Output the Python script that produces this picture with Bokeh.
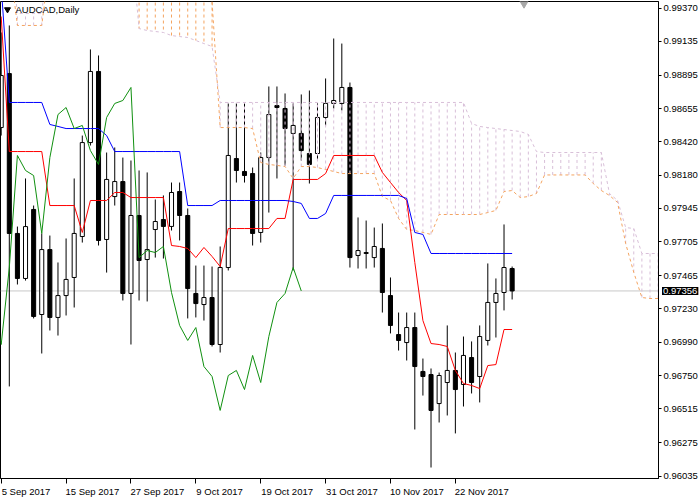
from bokeh.plotting import figure
from bokeh.models import Range1d, FixedTicker, Span, Label, PrintfTickFormatter
from bokeh.embed import file_html
from bokeh.resources import INLINE

# ---------------- data ----------------
symbol_title = "AUDCAD,Daily"
date_tick_index = [0, 8, 16, 24, 32, 40, 48, 56]
date_labels = ["5 Sep 2017", "15 Sep 2017", "27 Sep 2017", "9 Oct 2017",
               "19 Oct 2017", "31 Oct 2017", "10 Nov 2017", "22 Nov 2017"]
price_ticks = [0.99370, 0.99135, 0.98895, 0.98655, 0.98420, 0.98180, 0.97945,
               0.97705, 0.97465, 0.97230, 0.96990, 0.96750, 0.96515, 0.96275, 0.96035]
last_price = 0.97356

opens = [0.98521, 0.98906, 0.97766, 0.97445, 0.97937, 0.97188, 0.97651, 0.97167, 0.97323, 0.97452,
         0.97744, 0.98414, 0.98921, 0.97723, 0.98029, 0.98136, 0.97338, 0.97894, 0.97580, 0.97794,
         0.97865, 0.97816, 0.98065, 0.97894, 0.97338, 0.97259, 0.97309, 0.96974, 0.97523, 0.98300,
         0.98208, 0.98193, 0.97773, 0.98307, 0.98678, 0.98657, 0.98479, 0.98479, 0.98336, 0.98336,
         0.98593, 0.98693, 0.98693, 0.98807, 0.97609, 0.97623, 0.97594, 0.97659, 0.97323, 0.97045,
         0.96988, 0.97095, 0.96782, 0.96760, 0.96553, 0.96703, 0.96789, 0.96689, 0.96881, 0.96746,
         0.97003, 0.97274, 0.97345, 0.97516]
highs = [0.99199, 0.99249, 0.97815, 0.98158, 0.97965, 0.97766, 0.97751, 0.97559, 0.97730, 0.98158,
         0.98464, 0.99078, 0.99035, 0.98343, 0.98379, 0.98307, 0.98286, 0.98215, 0.98201, 0.98008,
         0.98037, 0.98129, 0.98129, 0.97944, 0.97537, 0.97537, 0.97530, 0.97673, 0.98693, 0.98693,
         0.98693, 0.98236, 0.98343, 0.98814, 0.98814, 0.98764, 0.98693, 0.98757, 0.98785, 0.98693,
         0.98871, 0.99156, 0.99120, 0.98842, 0.97880, 0.97858, 0.97808, 0.97837, 0.97452, 0.97202,
         0.97202, 0.97202, 0.96874, 0.96803, 0.96774, 0.97110, 0.96917, 0.97031, 0.96996, 0.97110,
         0.97552, 0.97445, 0.97830, 0.97530]
lows = [0.98464, 0.96675, 0.97402, 0.97430, 0.97160, 0.96910, 0.97074, 0.97038, 0.97181, 0.97238,
        0.97701, 0.98393, 0.97680, 0.97487, 0.97965, 0.97288, 0.96974, 0.97288, 0.97281, 0.97594,
        0.97587, 0.97787, 0.97716, 0.97160, 0.97167, 0.97145, 0.96960, 0.96917, 0.97502, 0.98129,
        0.98129, 0.97680, 0.97701, 0.97915, 0.98158, 0.98250, 0.97502, 0.98286, 0.98122, 0.98286,
        0.98536, 0.98657, 0.98643, 0.97523, 0.97516, 0.97516, 0.97523, 0.97202, 0.97053, 0.96931,
        0.96860, 0.96368, 0.96610, 0.96097, 0.96418, 0.96468, 0.96340, 0.96532, 0.96625, 0.96561,
        0.96967, 0.97024, 0.97217, 0.97295]
closes = [0.98892, 0.97766, 0.97445, 0.97815, 0.97174, 0.97651, 0.97167, 0.97323, 0.97438, 0.97766,
          0.98414, 0.98921, 0.97716, 0.98151, 0.98136, 0.97338, 0.97894, 0.97573, 0.97651, 0.97851,
          0.97816, 0.98058, 0.97894, 0.97373, 0.97266, 0.97309, 0.96974, 0.97523, 0.98322, 0.98215,
          0.98179, 0.97766, 0.98307, 0.98614, 0.98664, 0.98514, 0.98536, 0.98357, 0.98258, 0.98593,
          0.98693, 0.98714, 0.98807, 0.97594, 0.97644, 0.97630, 0.97673, 0.97345, 0.97110, 0.97003,
          0.97095, 0.96817, 0.96746, 0.96504, 0.96753, 0.96789, 0.96653, 0.96896, 0.96703, 0.97031,
          0.97274, 0.97338, 0.97523, 0.97356]

tenkan = [0.99313, 0.98350, 0.98350, 0.98350, 0.98350, 0.98350, 0.97965, 0.97965, 0.97965, 0.97965,
          0.97773, 0.98001, 0.98001, 0.98001, 0.98058, 0.98058, 0.98022, 0.98022, 0.98022, 0.98022,
          0.98022, 0.97680, 0.97673, 0.97659, 0.97594, 0.97666, 0.97602, 0.97530, 0.97801, 0.97801,
          0.97801, 0.97801, 0.97801, 0.97801, 0.97873, 0.97873, 0.98151, 0.98151, 0.98151, 0.98151,
          0.98193, 0.98322, 0.98322, 0.98322, 0.98322, 0.98322, 0.98322, 0.98201, 0.98129, 0.98058,
          0.98001, 0.97559, 0.97145, 0.96981, 0.96974, 0.96960, 0.96789, 0.96696, 0.96682, 0.96660,
          0.96824, 0.96831, 0.97081, 0.97081]
kijun = [0.99527, 0.98700, 0.98700, 0.98700, 0.98700, 0.98700, 0.98543, 0.98529, 0.98514, 0.98514,
         0.98514, 0.98514, 0.98514, 0.98464, 0.98350, 0.98350, 0.98350, 0.98350, 0.98350, 0.98350,
         0.98350, 0.98350, 0.98350, 0.97965, 0.97965, 0.97965, 0.97965, 0.98001, 0.98001, 0.98001,
         0.98001, 0.98001, 0.98001, 0.98001, 0.98001, 0.98001, 0.97994, 0.97980, 0.97873, 0.97873,
         0.97908, 0.98037, 0.98037, 0.98037, 0.98037, 0.98037, 0.98037, 0.98037, 0.98037, 0.98037,
         0.98015, 0.97773, 0.97759, 0.97623, 0.97623, 0.97623, 0.97623, 0.97623, 0.97623, 0.97623,
         0.97623, 0.97623, 0.97623, 0.97623]
# cloud spans, bar 0 .. bar 81 (already displaced 26 bars forward)
senkou_a = [0.99712, 0.99712, 0.99249, 0.99249, 0.99249, 0.99249, 0.99712, 0.99712, 0.99712, 0.99712,
            0.99712, 0.99712, 0.99712, 0.99712, 0.99712, 0.99712, 0.99712, 0.99712, 0.99712, 0.99712,
            0.99712, 0.99712, 0.99712, 0.99712, 0.99712, 0.99712, 0.99420, 0.98521, 0.98521, 0.98521,
            0.98521, 0.98514, 0.98272, 0.98258, 0.98251, 0.98243, 0.98158, 0.98243, 0.98243, 0.98236,
            0.98222, 0.98208, 0.98193, 0.98193, 0.98193, 0.98193, 0.98193, 0.98029, 0.98001, 0.97873,
            0.97794, 0.97787, 0.97773, 0.97759, 0.97901, 0.97901, 0.97901, 0.97901, 0.97901, 0.97901,
            0.97915, 0.97930, 0.98065, 0.98072, 0.98022, 0.98029, 0.98051, 0.98183, 0.98183, 0.98183,
            0.98183, 0.98183, 0.98183, 0.98122, 0.98072, 0.98037, 0.97987, 0.97694, 0.97488, 0.97309,
            0.97302, 0.97302]
senkou_b = [0.99855, 0.99855, 0.99334, 0.99334, 0.99334, 0.99334, 0.99855, 0.99855, 0.99855, 0.99855,
            0.99855, 0.99855, 0.99855, 0.99855, 0.99855, 0.99855, 0.99855, 0.99227, 0.99213, 0.99206,
            0.99199, 0.99177, 0.99170, 0.99163, 0.99142, 0.99120, 0.99099, 0.98700, 0.98700, 0.98700,
            0.98700, 0.98700, 0.98700, 0.98700, 0.98700, 0.98700, 0.98700, 0.98700, 0.98700, 0.98700,
            0.98700, 0.98700, 0.98700, 0.98700, 0.98700, 0.98700, 0.98700, 0.98700, 0.98700, 0.98700,
            0.98700, 0.98700, 0.98700, 0.98700, 0.98700, 0.98700, 0.98700, 0.98700, 0.98550, 0.98529,
            0.98521, 0.98514, 0.98507, 0.98500, 0.98493, 0.98472, 0.98350, 0.98343, 0.98343, 0.98343,
            0.98343, 0.98343, 0.98343, 0.98343, 0.98343, 0.98051, 0.98001, 0.97808, 0.97801, 0.97623,
            0.97623, 0.97623]
chikou_shift = 26

# ---------------- layout constants ----------------
PX_BAR = 8.11          # pixels per bar
FIRST_BAR_PX = 0.7     # pixel x of bar 0
FRAME_W = 658
FRAME_H = 477
Y_TOP = 0.994199
Y_BOT = 0.960186
PX_PRICE = (Y_TOP - Y_BOT) / FRAME_H
FONT = "Liberation Sans"
FS = "9.5px"
TOP_BORDER = 34        # room for the side-panel labels, pushed above the page
LEFT_BORDER = 50       # hidden room left of the frame
RIGHT_BORDER = 42
BOTTOM_BORDER = 24

# approximate glyph widths (em) to left-align date labels on their tick
_W = {"0": .556, "1": .556, "2": .556, "3": .556, "4": .556, "5": .556, "6": .556, "7": .556,
      "8": .556, "9": .556, " ": .278, "S": .667, "e": .556, "p": .556, "O": .778, "c": .5,
      "t": .278, "N": .722, "o": .556, "v": .5}


def left_aligned(s):
    w = sum(_W.get(ch, .556) for ch in s)
    return "\u00a0" * int(round(w / .278)) + s


x_start = -FIRST_BAR_PX / PX_BAR
x_end = x_start + FRAME_W / PX_BAR

p = figure(width=LEFT_BORDER + FRAME_W + RIGHT_BORDER,
           height=TOP_BORDER + FRAME_H + BOTTOM_BORDER,
           output_backend="svg", toolbar_location=None,
           x_range=Range1d(x_start, x_end), y_range=Range1d(Y_BOT, Y_TOP),
           y_axis_location="right", min_border_left=LEFT_BORDER, min_border_right=RIGHT_BORDER,
           min_border_top=TOP_BORDER, min_border_bottom=BOTTOM_BORDER)
p.margin = (-(TOP_BORDER - 1), -8, -8, -LEFT_BORDER)
p.background_fill_color = "white"
p.border_fill_color = "white"
p.outline_line_color = "black"
p.outline_line_width = 1
p.grid.visible = False

# x axis (first label is drawn separately so it stays fully on the page)
overrides = {t: left_aligned(lab) for t, lab in zip(date_tick_index, date_labels)}
overrides[date_tick_index[0]] = ""
p.xaxis.ticker = FixedTicker(ticks=date_tick_index, minor_ticks=[])
p.xaxis.major_label_overrides = overrides
p.xaxis.major_tick_out = 5
p.xaxis.major_tick_in = 0
p.xaxis.minor_tick_out = 0
p.xaxis.minor_tick_in = 0
p.xaxis.major_label_standoff = 2
p.xaxis.axis_line_color = "black"
p.xaxis.major_tick_line_color = "black"

# y axis
p.yaxis.ticker = FixedTicker(ticks=price_ticks, minor_ticks=[])
p.yaxis.formatter = PrintfTickFormatter(format="%.5f")
p.yaxis.major_tick_out = 3
p.yaxis.major_tick_in = 0
p.yaxis.minor_tick_out = 0
p.yaxis.minor_tick_in = 0
p.yaxis.major_label_standoff = 2
p.yaxis.axis_line_color = "black"
p.yaxis.major_tick_line_color = "black"

for ax in (p.xaxis, p.yaxis):
    ax.major_label_text_font = FONT
    ax.major_label_text_font_size = FS
    ax.major_label_text_color = "black"

# current price line
p.add_layout(Span(location=last_price, dimension="width", line_color="#c8c8c8",
                  line_width=1, level="underlay"))

# candles
n = len(closes)
bars = list(range(n))
p.segment(x0=bars, y0=highs, x1=bars, y1=lows, line_color="black", line_width=1)
body_top = [max(o, c) for o, c in zip(opens, closes)]
body_bot = [min(o, c) for o, c in zip(opens, closes)]
body_fill = ["white" if c >= o else "black" for o, c in zip(opens, closes)]
p.vbar(x=bars, width=0.5, top=body_top, bottom=body_bot, fill_color=body_fill,
       line_color="black", line_width=1)

# cloud hatch
cloud_x = list(range(len(senkou_a)))
hatch_col = ["#F4A460" if a > b else "#D8BFD8" for a, b in zip(senkou_a, senkou_b)]
p.segment(x0=cloud_x, y0=senkou_a, x1=cloud_x, y1=senkou_b, line_color=hatch_col,
          line_width=1, line_dash="3 3")
p.line(cloud_x, senkou_a, line_color="#F4A460", line_width=1, line_dash="3 3")
p.line(cloud_x, senkou_b, line_color="#D8BFD8", line_width=1, line_dash="3 3")

# tenkan / kijun / chikou
p.line(bars, tenkan, line_color="#ff0000", line_width=1)
p.line(bars, kijun, line_color="#0000ff", line_width=1)
p.line([b - chikou_shift for b in bars], closes, line_color="#109010", line_width=1)

# title and markers
p.scatter(x=[(7 - FIRST_BAR_PX) / PX_BAR], y=[Y_TOP - 8 * PX_PRICE], marker="inverted_triangle",
          size=6, color="black")
p.add_layout(Label(x=(15 - FIRST_BAR_PX) / PX_BAR, y=Y_TOP - 8 * PX_PRICE, text=symbol_title,
                   text_font=FONT, text_font_size=FS, text_color="black",
                   text_baseline="middle", text_align="left"))
p.scatter(x=[(523.5 - FIRST_BAR_PX) / PX_BAR], y=[Y_TOP - 1.5 * PX_PRICE],
          marker="inverted_triangle", size=9, color="#a8a8a8")

# last price tag on the axis (kept in a side panel so it is not clipped to the frame)
p.add_layout(Label(x=x_end + 3.5 / PX_BAR, y=last_price, text=f"{last_price:.5f}",
                   text_font=FONT, text_font_size=FS, text_color="white",
                   background_fill_color="black", text_baseline="middle", text_align="left",
                   padding=1), "above")

# first date label, left aligned on its tick, below the frame
p.add_layout(Label(x=date_tick_index[0] + (1.2 - FIRST_BAR_PX) / PX_BAR, y=Y_BOT - 7.5 * PX_PRICE,
                   text=date_labels[0], text_font=FONT, text_font_size=FS, text_color="black",
                   text_baseline="top", text_align="left"), "above")

open("out.html", "w").write(file_html(p, INLINE))
